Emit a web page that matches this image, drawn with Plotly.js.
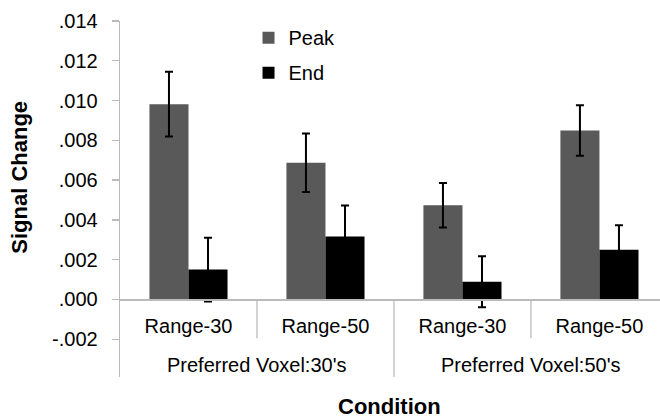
<!DOCTYPE html>
<html>
<head>
<meta charset="utf-8">
<script src="https://cdn.plot.ly/plotly-3.0.1.min.js"></script>
<style>html,body{margin:0;padding:0;background:#fff;overflow:hidden}</style>
</head>
<body>
<div id="chart" style="width:660px;height:418px"></div>
<script>
// Data
var categories = ['Range-30', 'Range-50', 'Range-30', 'Range-50'];
var groups = ["Preferred Voxel:30's", "Preferred Voxel:50's"];
var peak = [0.00982, 0.00687, 0.00474, 0.00850];
var peakErr = [0.00163, 0.00147, 0.00112, 0.00127];
var endVals = [0.00150, 0.00317, 0.00089, 0.00250];
var endErr = [0.00160, 0.00155, 0.00128, 0.00123];
var yTicks = [-0.002, 0, 0.002, 0.004, 0.006, 0.008, 0.010, 0.012, 0.014];

var xpos = categories.map(function (c, i) { return i; });
var yTickText = yTicks.map(function (v) { return v.toFixed(3).replace('0.', '.'); });

var FONT = 'Arial, "Liberation Sans", sans-serif';
var GRID = '#BBBBBB';
var yMin = -0.0039, yMax = 0.014;

var errStyle = function (arr) {
  return { type: 'data', array: arr, visible: true, color: '#000000', thickness: 2, width: 4 };
};

var traces = [
  { type: 'bar', name: 'Peak', x: xpos, y: peak, marker: { color: '#595959' },
    error_y: errStyle(peakErr), legendgroup: 'a' },
  { type: 'bar', name: 'End', x: xpos, y: endVals, marker: { color: '#000000' },
    error_y: errStyle(endErr), legendgroup: 'b' }
];

var shapes = [];
// separators between categories (short) and between groups (long)
[0.5, 1.5, 2.5].forEach(function (s) {
  shapes.push({ type: 'line', xref: 'x', yref: 'y', x0: s, x1: s, y0: 0,
    y1: (s === 1.5 ? yMin : -0.00195), line: { color: GRID, width: 1.3 } });
});

var annotations = groups.map(function (g, i) {
  return { text: g, xref: 'x', yref: 'y', x: 0.5 + 2 * i, y: -0.00328, showarrow: false,
    xanchor: 'center', yanchor: 'middle', font: { family: FONT, size: 20, color: '#000' } };
});

var layout = {
  width: 660, height: 418,
  margin: { l: 120, r: 0, t: 21, b: 41 },
  paper_bgcolor: '#fff', plot_bgcolor: '#fff',
  barmode: 'group', bargap: 0.43, bargroupgap: 0,
  font: { family: FONT, size: 20, color: '#000' },
  xaxis: {
    range: [-0.5, 3.442], tickvals: xpos, ticktext: categories,
    anchor: 'free', position: (0 - yMin) / (yMax - yMin),
    showline: true, linecolor: GRID, linewidth: 1.3, ticks: '', showgrid: false, zeroline: false,
    ticklabelstandoff: 8, tickfont: { family: FONT, size: 20, color: '#000' },
    title: { text: '' }
  },
  yaxis: {
    range: [yMin, yMax], tickvals: yTicks, ticktext: yTickText,
    showline: true, linecolor: GRID, linewidth: 1.3, ticks: 'outside', ticklen: 7, tickcolor: GRID,
    tickwidth: 1.3, showgrid: false, zeroline: false, ticklabelstandoff: 10,
    tickfont: { family: FONT, size: 20, color: '#000' },
    title: { text: '' }
  },
  showlegend: true,
  legend: {
    x: 0.238, y: 1.008, xanchor: 'left', yanchor: 'top', orientation: 'v',
    bgcolor: 'rgba(0,0,0,0)', tracegroupgap: 6,
    font: { family: FONT, size: 20, color: '#000' }
  },
  shapes: shapes,
  annotations: annotations.concat([
    { text: '<b>Condition</b>', xref: 'paper', yref: 'paper', x: 0.499, y: -0.0815, yanchor: 'middle',
      xanchor: 'center', showarrow: false, font: { family: FONT, size: 22, color: '#000' } },
    { text: '<b>Signal Change</b>', xref: 'paper', yref: 'paper', x: -0.185, y: 0.56, textangle: -90,
      xanchor: 'center', yanchor: 'middle', showarrow: false, font: { family: FONT, size: 22, color: '#000' } }
  ])
};

Plotly.newPlot('chart', traces, layout, { displayModeBar: false, staticPlot: true });
</script>
</body>
</html>
